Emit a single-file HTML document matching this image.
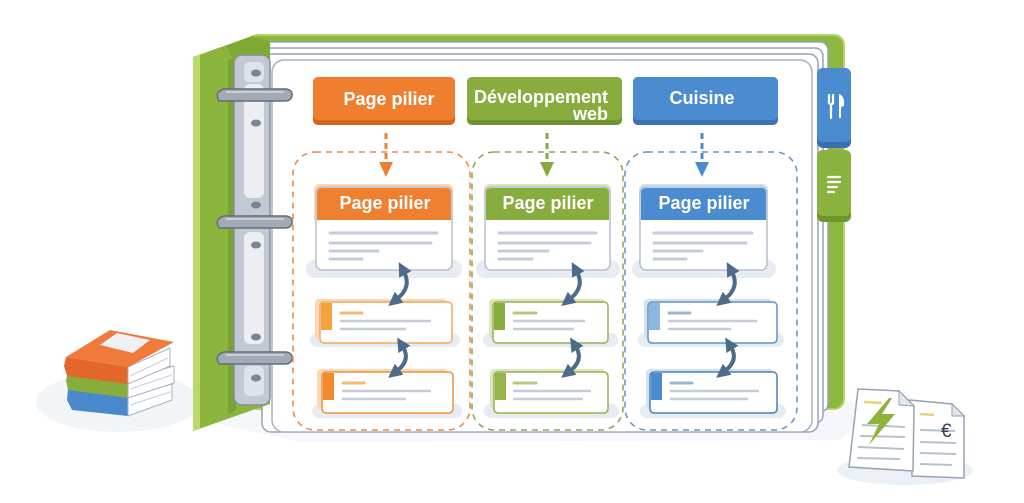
<!DOCTYPE html>
<html><head><meta charset="utf-8">
<style>
html,body{margin:0;padding:0;background:#fff;}
svg{display:block;}
text{font-family:"Liberation Sans",sans-serif;font-weight:bold;fill:#fff;}
</style></head>
<body>
<svg width="1024" height="503" viewBox="0 0 1024 503" xmlns="http://www.w3.org/2000/svg">
<defs>
<marker id="ah" viewBox="0 0 10 10" refX="2" refY="5" markerWidth="14" markerHeight="14" markerUnits="userSpaceOnUse" orient="auto-start-reverse">
<path d="M0,0 L10,5 L0,10 z" fill="#4d6a88"/>
</marker>
</defs>
<rect width="1024" height="503" fill="#fff"/>
<!-- soft ground shadows -->
<ellipse cx="118" cy="402" rx="82" ry="30" fill="#f2f5f8"/>
<path d="M200,420 L300,442 L840,440 L870,412 L850,402 L210,405 Z" fill="#f5f7fa"/>
<ellipse cx="905" cy="470" rx="68" ry="15" fill="#eaf0f6"/>

<!-- back cover -->
<rect x="248" y="35" width="596" height="374" rx="10" fill="#8db83f" stroke="#b5d366" stroke-width="2"/>

<!-- page stack -->
<rect x="262" y="42" width="566" height="370" rx="8" fill="#fff" stroke="#98a2b4" stroke-width="1.5"/>
<rect x="262" y="48" width="561" height="375" rx="8" fill="#fff" stroke="#98a2b4" stroke-width="1.5"/>
<rect x="262" y="54" width="556" height="378" rx="9" fill="#fff" stroke="#98a2b4" stroke-width="1.5"/>
<rect x="272" y="60" width="540" height="372" rx="12" fill="#fff" stroke="#a8b0c0" stroke-width="1.5"/>

<!-- tabs -->
<rect x="817" y="68" width="34" height="80" rx="6" fill="#3a70b0"/>
<rect x="817" y="68" width="34" height="74" rx="6" fill="#4b8bd0"/>
<g stroke="#fff" stroke-width="2.2" stroke-linecap="round" fill="none">
<line x1="829" y1="95" x2="829" y2="103"/><line x1="833" y1="95" x2="833" y2="103"/>
<path d="M829,103 Q831,106 833,103"/><line x1="831" y1="105" x2="831" y2="118"/>
</g>
<path d="M839,94 Q845,96 844,106 L841,107 L841,118 L839,118 Z" fill="#fff"/>
<rect x="817" y="150" width="34" height="72" rx="6" fill="#6f952d"/>
<rect x="817" y="150" width="34" height="66" rx="6" fill="#8ab23e"/>
<g stroke="#fff" stroke-width="2.2" stroke-linecap="round">
<line x1="828" y1="177" x2="840" y2="177"/><line x1="828" y1="182" x2="840" y2="182"/>
<line x1="828" y1="187" x2="837" y2="187"/><line x1="828" y1="192" x2="834" y2="192"/>
</g>

<!-- front cover (left) -->
<polygon points="193,57 252,36 270,42 270,404 193,431" fill="#8cb53d"/>
<polygon points="193,57 200,55 200,428 193,431" fill="#bcd86d"/>
<polygon points="226,46 252,36 270,42 270,60 234,60" fill="#7eaa34"/>
<polygon points="228,60 236,58 236,410 228,414" fill="#79a332"/>

<!-- metal spine -->
<rect x="234" y="55" width="36" height="350" rx="8" fill="#c3c9d3" stroke="#858e9c" stroke-width="1.5"/>
<rect x="244" y="84" width="20" height="114" rx="6" fill="#eceef2"/>
<rect x="244" y="232" width="20" height="112" rx="6" fill="#eceef2"/>
<rect x="244" y="62" width="20" height="20" rx="5" fill="#dfe2e8"/>
<rect x="244" y="366" width="20" height="30" rx="5" fill="#dfe2e8"/>
<g fill="#7b8492">
<ellipse cx="256" cy="73" rx="5" ry="3.5"/><ellipse cx="256" cy="123" rx="5" ry="3.5"/>
<ellipse cx="256" cy="205" rx="5" ry="3.5"/><ellipse cx="256" cy="245" rx="5" ry="3.5"/>
<ellipse cx="256" cy="337" rx="5" ry="3.5"/><ellipse cx="256" cy="378" rx="5" ry="3.5"/>
</g>
<!-- rings -->
<g>
<path d="M219,101 Q214,92 224,89 L286,89 Q293,90 292,96 Q291,101 285,101 L226,101 Z" fill="#a3aab6" stroke="#636c7a" stroke-width="1.5"/>
<path d="M219,228 Q214,219 224,216 L286,216 Q293,217 292,223 Q291,228 285,228 L226,228 Z" fill="#a3aab6" stroke="#636c7a" stroke-width="1.5"/>
<path d="M219,364 Q214,355 224,352 L286,352 Q293,353 292,359 Q291,364 285,364 L226,364 Z" fill="#a3aab6" stroke="#636c7a" stroke-width="1.5"/>
<line x1="226" y1="92" x2="284" y2="92" stroke="#c8cdd6" stroke-width="2"/>
<line x1="226" y1="219" x2="284" y2="219" stroke="#c8cdd6" stroke-width="2"/>
<line x1="226" y1="355" x2="284" y2="355" stroke="#c8cdd6" stroke-width="2"/>
</g>

<!-- header boxes -->
<rect x="313" y="77" width="142" height="48" rx="5" fill="#d5651e"/>
<rect x="313" y="77" width="142" height="43" rx="5" fill="#ef7f2e"/>
<text x="389" y="105" font-size="18" text-anchor="middle">Page pilier</text>

<rect x="467" y="77" width="155" height="48" rx="5" fill="#6e9430"/>
<rect x="467" y="77" width="155" height="43" rx="5" fill="#88ad3e"/>
<text x="608" y="103" font-size="18" text-anchor="end">Développement</text>
<text x="608" y="120" font-size="18" text-anchor="end">web</text>

<rect x="633" y="77" width="145" height="48" rx="5" fill="#3a72b5"/>
<rect x="633" y="77" width="145" height="43" rx="5" fill="#4b8bd0"/>
<text x="702" y="104" font-size="18" text-anchor="middle">Cuisine</text>

<!-- dashed arrows -->
<g stroke-width="3" stroke-dasharray="6 4">
<line x1="386" y1="133" x2="386" y2="163" stroke="#ee7f30"/>
<line x1="547" y1="133" x2="547" y2="163" stroke="#86a93c"/>
<line x1="702" y1="133" x2="702" y2="163" stroke="#4b8bd0"/>
</g>
<polygon points="379,162 393,162 386,177" fill="#ee7f30"/>
<polygon points="540,162 554,162 547,177" fill="#86a93c"/>
<polygon points="695,162 709,162 702,177" fill="#4b8bd0"/>

<!-- dashed containers -->
<g fill="none" stroke-width="1.6" stroke-dasharray="6 5">
<rect x="293" y="152" width="177" height="278" rx="22" stroke="#ec8c4a"/>
<rect x="472" y="152" width="151" height="278" rx="22" stroke="#8fa85c"/>
<rect x="625" y="152" width="172" height="278" rx="22" stroke="#6b96c4"/>
</g>

<!-- pillar cards -->
<g>
<rect x="306" y="260" width="156" height="18" rx="9" fill="#e7ecf3"/>
<rect x="314" y="184" width="139" height="40" rx="5" fill="#fbd8b3"/>
<rect x="316" y="187" width="136" height="83" rx="6" fill="#fff" stroke="#b7bfcc" stroke-width="1.5"/>
<path d="M317,220 V193 Q317,188 322,188 H446 Q451,188 451,193 V220 Z" fill="#ef8030"/>
<text x="385" y="209" font-size="18" text-anchor="middle">Page pilier</text>
<g stroke="#c6ccd8" stroke-width="3" stroke-linecap="round">
<line x1="330" y1="233" x2="437" y2="233"/><line x1="330" y1="243" x2="431" y2="243"/>
<line x1="330" y1="251" x2="378" y2="251"/><line x1="330" y1="259" x2="362" y2="259"/>
</g>
</g>
<g>
<rect x="476" y="260" width="144" height="18" rx="9" fill="#e7ecf3"/>
<rect x="484" y="184" width="127" height="40" rx="5" fill="#dbe6bf"/>
<rect x="485" y="187" width="125" height="83" rx="6" fill="#fff" stroke="#b7bfcc" stroke-width="1.5"/>
<path d="M486,220 V193 Q486,188 491,188 H604 Q609,188 609,193 V220 Z" fill="#88ad3e"/>
<text x="548" y="209" font-size="18" text-anchor="middle">Page pilier</text>
<g stroke="#c6ccd8" stroke-width="3" stroke-linecap="round">
<line x1="499" y1="233" x2="596" y2="233"/><line x1="499" y1="243" x2="590" y2="243"/>
<line x1="499" y1="251" x2="548" y2="251"/><line x1="499" y1="259" x2="532" y2="259"/>
</g>
</g>
<g>
<rect x="632" y="260" width="144" height="18" rx="9" fill="#e7ecf3"/>
<rect x="639" y="184" width="129" height="40" rx="5" fill="#cfe0f2"/>
<rect x="640" y="187" width="127" height="83" rx="6" fill="#fff" stroke="#b7bfcc" stroke-width="1.5"/>
<path d="M641,220 V193 Q641,188 646,188 H761 Q766,188 766,193 V220 Z" fill="#4b8bd0"/>
<text x="704" y="209" font-size="18" text-anchor="middle">Page pilier</text>
<g stroke="#c6ccd8" stroke-width="3" stroke-linecap="round">
<line x1="654" y1="233" x2="752" y2="233"/><line x1="654" y1="243" x2="746" y2="243"/>
<line x1="654" y1="251" x2="702" y2="251"/><line x1="654" y1="259" x2="686" y2="259"/>
</g>
</g>

<!-- child cards: orange -->
<g>
<rect x="310" y="333" width="150" height="14" rx="7" fill="#e7ecf3"/>
<rect x="315" y="299" width="132" height="40" rx="4" fill="#fbd8b3"/>
<rect x="320" y="302" width="132" height="41" rx="4" fill="#fff" stroke="#f0a760" stroke-width="1.5"/>
<rect x="321" y="303" width="11" height="27" fill="#f5a23c"/>
<line x1="341" y1="313" x2="362" y2="313" stroke="#f5b872" stroke-width="3" stroke-linecap="round"/>
<line x1="341" y1="321" x2="430" y2="321" stroke="#c6ccd8" stroke-width="2.5" stroke-linecap="round"/>
<line x1="341" y1="329" x2="405" y2="329" stroke="#c6ccd8" stroke-width="2.5" stroke-linecap="round"/>

<rect x="312" y="404" width="150" height="14" rx="7" fill="#e7ecf3"/>
<rect x="317" y="369" width="131" height="40" rx="4" fill="#fbd8b3"/>
<rect x="322" y="372" width="131" height="41" rx="4" fill="#fff" stroke="#ee9040" stroke-width="1.5"/>
<rect x="323" y="373" width="11" height="27" fill="#f08a2c"/>
<line x1="343" y1="383" x2="364" y2="383" stroke="#f5b872" stroke-width="3" stroke-linecap="round"/>
<line x1="343" y1="391" x2="430" y2="391" stroke="#c6ccd8" stroke-width="2.5" stroke-linecap="round"/>
<line x1="343" y1="399" x2="405" y2="399" stroke="#c6ccd8" stroke-width="2.5" stroke-linecap="round"/>
</g>
<!-- child cards: green -->
<g>
<rect x="483" y="333" width="135" height="14" rx="7" fill="#e7ecf3"/>
<rect x="489" y="299" width="116" height="40" rx="4" fill="#dbe6bf"/>
<rect x="493" y="302" width="115" height="41" rx="4" fill="#fff" stroke="#98b150" stroke-width="1.5"/>
<rect x="494" y="303" width="11" height="27" fill="#88ad3e"/>
<line x1="514" y1="313" x2="536" y2="313" stroke="#b5c97e" stroke-width="3" stroke-linecap="round"/>
<line x1="514" y1="321" x2="584" y2="321" stroke="#c6ccd8" stroke-width="2.5" stroke-linecap="round"/>
<line x1="514" y1="329" x2="573" y2="329" stroke="#c6ccd8" stroke-width="2.5" stroke-linecap="round"/>

<rect x="484" y="404" width="135" height="14" rx="7" fill="#e7ecf3"/>
<rect x="490" y="369" width="115" height="40" rx="4" fill="#dbe6bf"/>
<rect x="494" y="372" width="114" height="41" rx="4" fill="#fff" stroke="#98b150" stroke-width="1.5"/>
<rect x="495" y="373" width="11" height="27" fill="#96b44c"/>
<line x1="514" y1="383" x2="536" y2="383" stroke="#b5c97e" stroke-width="3" stroke-linecap="round"/>
<line x1="514" y1="391" x2="590" y2="391" stroke="#c6ccd8" stroke-width="2.5" stroke-linecap="round"/>
<line x1="514" y1="399" x2="582" y2="399" stroke="#c6ccd8" stroke-width="2.5" stroke-linecap="round"/>
</g>
<!-- child cards: blue -->
<g>
<rect x="638" y="333" width="146" height="14" rx="7" fill="#e7ecf3"/>
<rect x="644" y="299" width="128" height="40" rx="4" fill="#d3e2f2"/>
<rect x="648" y="302" width="129" height="41" rx="4" fill="#fff" stroke="#5f92c8" stroke-width="1.5"/>
<rect x="649" y="303" width="11" height="27" fill="#8cb5e0"/>
<line x1="669" y1="313" x2="690" y2="313" stroke="#9bb6d2" stroke-width="3" stroke-linecap="round"/>
<line x1="669" y1="321" x2="756" y2="321" stroke="#c6ccd8" stroke-width="2.5" stroke-linecap="round"/>
<line x1="669" y1="329" x2="730" y2="329" stroke="#c6ccd8" stroke-width="2.5" stroke-linecap="round"/>

<rect x="640" y="404" width="146" height="14" rx="7" fill="#e7ecf3"/>
<rect x="646" y="369" width="127" height="40" rx="4" fill="#d3e2f2"/>
<rect x="650" y="372" width="127" height="41" rx="4" fill="#fff" stroke="#4a7fb8" stroke-width="1.5"/>
<rect x="651" y="373" width="11" height="27" fill="#4b8bd0"/>
<line x1="671" y1="383" x2="692" y2="383" stroke="#9bb6d2" stroke-width="3" stroke-linecap="round"/>
<line x1="671" y1="391" x2="758" y2="391" stroke="#c6ccd8" stroke-width="2.5" stroke-linecap="round"/>
<line x1="671" y1="399" x2="747" y2="399" stroke="#c6ccd8" stroke-width="2.5" stroke-linecap="round"/>
</g>

<!-- curved double arrows -->
<g fill="none" stroke="#4d6a88" stroke-width="4" stroke-linecap="round">
<path d="M404,272 Q412,287 397,299" marker-start="url(#ah)" marker-end="url(#ah)"/>
<path d="M403,347 Q411,360 397,371" marker-start="url(#ah)" marker-end="url(#ah)"/>
<path d="M577,272 Q585,287 570,299" marker-start="url(#ah)" marker-end="url(#ah)"/>
<path d="M576,347 Q584,360 570,371" marker-start="url(#ah)" marker-end="url(#ah)"/>
<path d="M732,272 Q740,287 725,299" marker-start="url(#ah)" marker-end="url(#ah)"/>
<path d="M731,347 Q739,360 725,371" marker-start="url(#ah)" marker-end="url(#ah)"/>
</g>

<!-- books -->
<g>
<polygon points="68,388 128,396 128,416 72,410 67,400" fill="#4a88cc"/>
<polygon points="128,396 172,384 172,400 128,416" fill="#fff" stroke="#a8b2c2" stroke-width="1"/>
<line x1="130" y1="405" x2="170" y2="392" stroke="#c6ccd8" stroke-width="1"/>
<polygon points="68,372 128,379 128,398 68,390 66,381" fill="#86ae3c"/>
<polygon points="128,379 174,366 174,383 128,398" fill="#fff" stroke="#a8b2c2" stroke-width="1"/>
<line x1="130" y1="389" x2="172" y2="375" stroke="#c6ccd8" stroke-width="1"/>
<polygon points="66,357 128,367 128,384 67,376 64,366" fill="#e3662a"/>
<polygon points="128,367 170,348 170,366 128,384" fill="#fff" stroke="#a8b2c2" stroke-width="1"/>
<line x1="130" y1="376" x2="168" y2="358" stroke="#c6ccd8" stroke-width="1"/>
<polygon points="66,357 110,330 174,342 128,367" fill="#f07a3a"/>
<polygon points="100,345 117,333 150,340 133,353" fill="#eef0f3"/>
</g>

<!-- documents -->
<g>
<polygon points="910,400 952,404 964,416 964,478 912,476" fill="#fff" stroke="#98a2b4" stroke-width="1.5"/>
<polygon points="952,404 952,416 964,416" fill="#e2e6ed" stroke="#98a2b4" stroke-width="1"/>
<line x1="920" y1="414" x2="934" y2="415" stroke="#e3d27a" stroke-width="2.5"/>
<g stroke="#b8c0cc" stroke-width="2">
<line x1="920" y1="430" x2="955" y2="431"/><line x1="920" y1="442" x2="956" y2="443"/>
<line x1="920" y1="453" x2="956" y2="454"/><line x1="920" y1="464" x2="952" y2="465"/>
</g>
<text x="941" y="437" font-size="19" style="fill:#34404f;font-weight:normal">€</text>
<polygon points="858,389 899,391 914,406 913,471 849,467" fill="#fff" stroke="#98a2b4" stroke-width="1.5"/>
<polygon points="899,391 899,405 914,406" fill="#e2e6ed" stroke="#98a2b4" stroke-width="1"/>
<line x1="864" y1="402" x2="882" y2="403" stroke="#e3d27a" stroke-width="2.5"/>
<g stroke="#b8c0cc" stroke-width="2">
<line x1="862" y1="425" x2="905" y2="427"/><line x1="860" y1="436" x2="905" y2="437"/>
<line x1="858" y1="447" x2="904" y2="449"/><line x1="857" y1="458" x2="900" y2="459"/>
</g>
<polygon points="889,398 867,424 879,424 869,445 895,414 882,414 892,398" fill="#8db33a"/>
</g>
</svg>
</body></html>
